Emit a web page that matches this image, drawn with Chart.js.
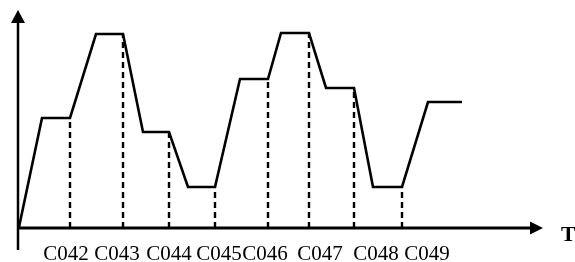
<!DOCTYPE html>
<html>
<head>
<meta charset="utf-8">
<script src="https://cdn.jsdelivr.net/npm/chart.js@4.4.1/dist/chart.umd.min.js"></script>
<style>
  html, body { margin: 0; padding: 0; background: #fff; }
  #wrap { width: 575px; height: 262px; }
</style>
</head>
<body>
<div id="wrap"><canvas id="chart-line"></canvas></div>
<script>
// profile points: time and level
var timeValues = [0, 23, 51, 77, 104, 124, 150, 169, 196, 221, 249, 262, 290, 307, 335, 354, 383, 409, 443];
var levelValues = [1, 110, 110, 194, 194, 96, 96, 41, 41, 149, 149, 195, 195, 140, 140, 41, 41, 126, 126];

// dashed drop lines (index into the profile)
var dropIndex = [2, 4, 6, 8, 10, 12, 14, 16];

// tick labels under the time axis
var tickLabels = ["C042", "C043", "C044", "C045", "C046", "C047", "C048", "C049"];
var tickTimes = [47, 98, 150, 200, 246, 301, 357, 408];

var axisMaxT = 524;
var axisMaxV = 218;

var profile = timeValues.map(function (t, i) { return { x: t, y: levelValues[i] }; });

var datasets = [{
  data: profile,
  borderColor: "#000",
  borderWidth: 2.6,
  pointRadius: 0,
  tension: 0,
  fill: false
}];

dropIndex.forEach(function (i) {
  datasets.push({
    data: [{ x: timeValues[i], y: 0 }, { x: timeValues[i], y: levelValues[i] }],
    borderColor: "#000",
    borderWidth: 2.4,
    borderDash: [6, 4],
    pointRadius: 0,
    fill: false
  });
});

var axesPlugin = {
  id: "arrowAxes",
  afterDraw: function (chart) {
    var c = chart.ctx;
    var xs = chart.scales.x, ys = chart.scales.y;
    var ox = xs.getPixelForValue(0) - 1;
    var oy = ys.getPixelForValue(0);
    var xEnd = xs.getPixelForValue(axisMaxT);
    var yEnd = ys.getPixelForValue(axisMaxV);

    c.save();
    c.strokeStyle = "#000";
    c.fillStyle = "#000";
    c.lineWidth = 2.5;

    // vertical axis
    c.beginPath();
    c.moveTo(ox, oy + 22);
    c.lineTo(ox, yEnd + 12);
    c.stroke();
    c.beginPath();
    c.moveTo(ox, yEnd);
    c.lineTo(ox - 7, yEnd + 13);
    c.lineTo(ox + 7, yEnd + 13);
    c.closePath();
    c.fill();

    // horizontal axis
    c.lineWidth = 3;
    c.beginPath();
    c.moveTo(ox, oy);
    c.lineTo(xEnd - 11, oy);
    c.stroke();
    c.beginPath();
    c.moveTo(xEnd, oy);
    c.lineTo(xEnd - 13, oy - 6.5);
    c.lineTo(xEnd - 13, oy + 6.5);
    c.closePath();
    c.fill();

    // tick labels
    c.font = "21px 'Liberation Serif', 'DejaVu Serif', serif";
    c.textAlign = "center";
    c.textBaseline = "middle";
    tickLabels.forEach(function (lab, i) {
      c.fillText(lab, xs.getPixelForValue(tickTimes[i]), oy + 26);
    });

    c.font = "bold 22px 'Liberation Serif', 'DejaVu Serif', serif";
    c.textAlign = "left";
    c.fillText("T", xEnd + 18, oy + 7);
    c.restore();
  }
};

new Chart(document.getElementById("chart-line"), {
  type: "line",
  data: { datasets: datasets },
  options: {
    responsive: true,
    maintainAspectRatio: false,
    animation: false,
    layout: { padding: { left: 19, right: 32, top: 10, bottom: 34 } },
    plugins: { legend: { display: false }, tooltip: { enabled: false } },
    scales: {
      x: { type: "linear", min: 0, max: axisMaxT, display: false },
      y: { type: "linear", min: 0, max: axisMaxV, display: false }
    }
  },
  plugins: [axesPlugin]
});
</script>
</body>
</html>
